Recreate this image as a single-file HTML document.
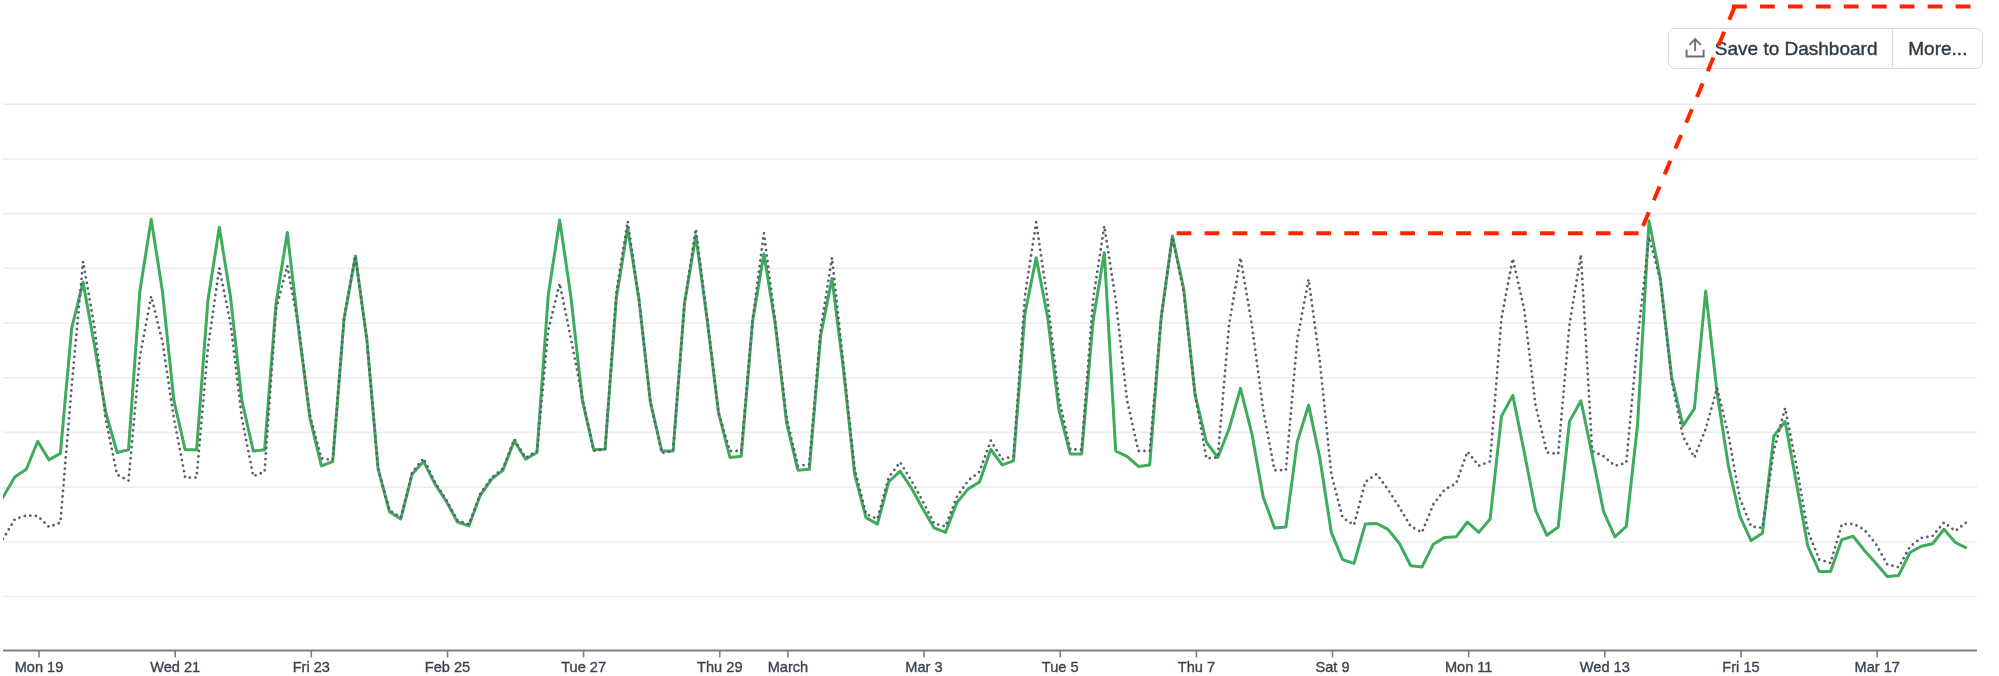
<!DOCTYPE html>
<html><head><meta charset="utf-8"><title>Chart</title>
<style>
html,body{margin:0;padding:0;background:#fff;}
body{width:1999px;height:676px;overflow:hidden;position:relative;font-family:"Liberation Sans",Arial,sans-serif;}
svg{position:absolute;left:0;top:0;}
.btn{position:absolute;left:1668px;top:27.6px;width:315px;height:40.5px;border:1px solid #d6dbe6;border-radius:7px;box-sizing:border-box;background:#fff;display:flex;align-items:center;color:#2d3b46;font-size:19px;will-change:transform;-webkit-text-stroke:0.4px #2d3b46;}
.btn .b1{width:224px;height:100%;display:flex;align-items:center;border-right:1px solid #d6dbe6;box-sizing:border-box;position:relative;}
.btn .b1 span{position:absolute;left:45.8px;top:8.6px;white-space:nowrap;}
.btn .b2{flex:1;height:100%;position:relative;}
.btn .b2 span{position:absolute;left:15.3px;top:8.6px;white-space:nowrap;}
.btn svg{position:absolute;left:15px;top:8.4px;}
</style></head>
<body>
<svg width="1999" height="676" viewBox="0 0 1999 676" style="will-change:transform">
<defs><clipPath id="pc"><rect x="3" y="0" width="1974" height="676"/></clipPath></defs>
<g stroke="#ededed" stroke-width="1.6"><line x1="3" x2="1977" y1="104.2" y2="104.2"/><line x1="3" x2="1977" y1="158.9" y2="158.9"/><line x1="3" x2="1977" y1="213.6" y2="213.6"/><line x1="3" x2="1977" y1="268.3" y2="268.3"/><line x1="3" x2="1977" y1="323" y2="323"/><line x1="3" x2="1977" y1="377.7" y2="377.7"/><line x1="3" x2="1977" y1="432.4" y2="432.4"/><line x1="3" x2="1977" y1="487.1" y2="487.1"/><line x1="3" x2="1977" y1="541.8" y2="541.8"/><line x1="3" x2="1977" y1="596.5" y2="596.5"/></g>
<line x1="3" x2="1977" y1="650.5" y2="650.5" stroke="#77818c" stroke-width="1.8"/>
<g stroke="#77818c" stroke-width="1.6"><line x1="39" x2="39" y1="650.5" y2="657.5"/><line x1="175.2" x2="175.2" y1="650.5" y2="657.5"/><line x1="311.3" x2="311.3" y1="650.5" y2="657.5"/><line x1="447.5" x2="447.5" y1="650.5" y2="657.5"/><line x1="583.6" x2="583.6" y1="650.5" y2="657.5"/><line x1="719.8" x2="719.8" y1="650.5" y2="657.5"/><line x1="787.9" x2="787.9" y1="650.5" y2="657.5"/><line x1="924" x2="924" y1="650.5" y2="657.5"/><line x1="1060.2" x2="1060.2" y1="650.5" y2="657.5"/><line x1="1196.4" x2="1196.4" y1="650.5" y2="657.5"/><line x1="1332.5" x2="1332.5" y1="650.5" y2="657.5"/><line x1="1468.7" x2="1468.7" y1="650.5" y2="657.5"/><line x1="1604.8" x2="1604.8" y1="650.5" y2="657.5"/><line x1="1741" x2="1741" y1="650.5" y2="657.5"/><line x1="1877.2" x2="1877.2" y1="650.5" y2="657.5"/></g>
<g fill="#3a4550" stroke="#3a4550" stroke-width="0.35" font-family="Liberation Sans, Arial, sans-serif" font-size="14.6" text-anchor="middle"><text x="39" y="672">Mon 19</text><text x="175.2" y="672">Wed 21</text><text x="311.3" y="672">Fri 23</text><text x="447.5" y="672">Feb 25</text><text x="583.6" y="672">Tue 27</text><text x="719.8" y="672">Thu 29</text><text x="787.9" y="672">March</text><text x="924" y="672">Mar 3</text><text x="1060.2" y="672">Tue 5</text><text x="1196.4" y="672">Thu 7</text><text x="1332.5" y="672">Sat 9</text><text x="1468.7" y="672">Mon 11</text><text x="1604.8" y="672">Wed 13</text><text x="1741" y="672">Fri 15</text><text x="1877.2" y="672">Mar 17</text></g>
<g clip-path="url(#pc)"><path d="M-7.7,512 L3.7,496 L15,476.7 L26.4,469.3 L37.7,441.2 L49,459.9 L60.4,453.4 L71.7,327.8 L83.1,282.2 L94.4,345 L105.8,412.5 L117.1,452.5 L128.5,449.8 L139.8,291.7 L151.2,219.2 L162.5,291.7 L173.9,400.7 L185.2,449.8 L196.6,449.8 L207.9,300.6 L219.3,227.2 L230.6,297.6 L241.9,400.7 L253.3,451 L264.6,449.8 L276,303.5 L287.3,232.5 L298.7,330 L310,418.5 L321.4,465.8 L332.7,461.7 L344.1,318.4 L355.4,256 L366.8,339 L378.1,468.8 L389.5,511.7 L400.8,519 L412.2,474 L423.5,461.4 L434.8,483.6 L446.2,501.3 L457.5,522 L468.9,525.9 L480.2,495.4 L491.6,479.1 L502.9,470.2 L514.3,440.7 L525.6,459.3 L537,452.5 L548.3,294.7 L559.7,220.1 L571,297.6 L582.4,400.7 L593.7,449.8 L605.1,449.2 L616.4,297.6 L627.7,228 L639.1,300.6 L650.4,402.2 L661.8,451 L673.1,451 L684.5,303.5 L695.8,235.5 L707.2,320 L718.5,412.5 L729.9,457.5 L741.2,456.3 L752.6,321.3 L763.9,253.8 L775.3,324.3 L786.6,422.9 L797.9,470.2 L809.3,469.3 L820.6,336 L832,278.4 L843.3,368 L854.7,474.7 L866,517.6 L877.4,524.1 L888.7,482 L900.1,471.1 L911.4,488 L922.8,508.7 L934.1,527.9 L945.5,532.4 L956.8,502.8 L968.2,488.9 L979.5,482 L990.8,449.5 L1002.2,464.9 L1013.5,460.8 L1024.9,313.9 L1036.2,257.7 L1047.6,316.9 L1058.9,409.6 L1070.3,454 L1081.6,454 L1093,321.3 L1104.3,252.7 L1115.7,451 L1127,456.3 L1138.4,466.4 L1149.7,464.9 L1161.1,318.3 L1172.4,236.1 L1183.7,288.8 L1195.1,394.8 L1206.4,442.1 L1217.8,457.5 L1229.1,428.8 L1240.5,388.3 L1251.8,433.3 L1263.2,496.9 L1274.5,527.9 L1285.9,527 L1297.2,442.1 L1308.6,405.1 L1319.9,458.4 L1331.3,532.4 L1342.6,559.6 L1354,563.4 L1365.3,524.1 L1376.6,523.5 L1388,529.4 L1399.3,543.3 L1410.7,565.8 L1422,567 L1433.4,544.2 L1444.7,537.4 L1456.1,536.8 L1467.4,522 L1478.8,532.4 L1490.1,519 L1501.5,416.1 L1512.8,395.4 L1524.2,452 L1535.5,510.2 L1546.9,535.3 L1558.2,527 L1569.5,421.4 L1580.9,400.7 L1592.2,454.9 L1603.6,511.7 L1614.9,536.8 L1626.3,526.4 L1637.6,424.4 L1649,220.7 L1660.3,278.4 L1671.7,377.5 L1683,425.9 L1694.4,408.7 L1705.7,291.1 L1717.1,393 L1728.4,465.8 L1739.8,516.1 L1751.1,540.6 L1762.4,533.3 L1773.8,436.2 L1785.1,421.4 L1796.5,483.6 L1807.8,546.2 L1819.2,571.4 L1830.5,571.4 L1841.9,539.6 L1853.2,536.2 L1864.6,550.7 L1875.9,563.2 L1887.3,576.5 L1898.6,575.5 L1910,552.5 L1921.3,546.2 L1932.6,543.8 L1944,529.3 L1955.3,542.5 L1966.7,548.1" fill="none" stroke="#3fab5c" stroke-width="3" stroke-linejoin="round"/>
<path d="M-7.7,552 L3.7,538 L15,519 L26.4,515.5 L37.7,516 L49,527 L60.4,522.6 L71.7,386 L83.1,261.5 L94.4,327 L105.8,420 L117.1,474.7 L128.5,480.6 L139.8,357 L151.2,296.2 L162.5,342 L173.9,418.5 L185.2,477.6 L196.6,477.6 L207.9,348 L219.3,268 L230.6,324 L241.9,418.5 L253.3,476.2 L264.6,471.7 L276,309.5 L287.3,265.7 L298.7,327 L310,415.5 L321.4,458.4 L332.7,460 L344.1,318.4 L355.4,256 L366.8,339 L378.1,468.8 L389.5,510.2 L400.8,517.5 L412.2,472.5 L423.5,458.4 L434.8,482.1 L446.2,499.8 L457.5,520.5 L468.9,524.4 L480.2,493.9 L491.6,477.6 L502.9,468.7 L514.3,439.2 L525.6,457.8 L537,451 L548.3,330 L559.7,283.4 L571,339 L582.4,398 L593.7,451 L605.1,449.2 L616.4,291.7 L627.7,221.3 L639.1,300 L650.4,402 L661.8,453 L673.1,451 L684.5,303.5 L695.8,229 L707.2,318 L718.5,412.5 L729.9,451 L741.2,451 L752.6,320 L763.9,233.1 L775.3,322 L786.6,418 L797.9,465.8 L809.3,464.3 L820.6,330 L832,257.7 L843.3,363 L854.7,468.8 L866,514 L877.4,519 L888.7,477.6 L900.1,462.2 L911.4,480.6 L922.8,501.3 L934.1,523.5 L945.5,526.4 L956.8,496.9 L968.2,480.6 L979.5,471.7 L990.8,440.7 L1002.2,459.3 L1013.5,456.3 L1024.9,296 L1036.2,222.2 L1047.6,300 L1058.9,398 L1070.3,449.5 L1081.6,449.5 L1093,300 L1104.3,226 L1115.7,300 L1127,400 L1138.4,451 L1149.7,451 L1161.1,318 L1172.4,237 L1183.7,292 L1195.1,395 L1206.4,458.4 L1217.8,457.5 L1229.1,324.3 L1240.5,257.7 L1251.8,324.3 L1263.2,410 L1274.5,470.2 L1285.9,470.2 L1297.2,340 L1308.6,279.3 L1319.9,362 L1331.3,474 L1342.6,517.6 L1354,525 L1365.3,482 L1376.6,474 L1388,489.5 L1399.3,507.2 L1410.7,526.4 L1422,532.4 L1433.4,504.3 L1444.7,489.5 L1456.1,483.6 L1467.4,451.6 L1478.8,465.8 L1490.1,461.4 L1501.5,318 L1512.8,258.6 L1524.2,309.5 L1535.5,405 L1546.9,452.5 L1558.2,454 L1569.5,324.3 L1580.9,254.7 L1592.2,451 L1603.6,456.3 L1614.9,465.8 L1626.3,462.8 L1637.6,340 L1649,237 L1660.3,280 L1671.7,380.5 L1683,436.5 L1694.4,457.5 L1705.7,429 L1717.1,388 L1728.4,435 L1739.8,498.3 L1751.1,526.4 L1762.4,527.9 L1773.8,451 L1785.1,408.1 L1796.5,465.8 L1807.8,531 L1819.2,559.5 L1830.5,563 L1841.9,524.3 L1853.2,523.7 L1864.6,530 L1875.9,544 L1887.3,564.5 L1898.6,567.3 L1910,546.6 L1921.3,537.9 L1932.6,536 L1944,522.5 L1955.3,531 L1966.7,522" fill="none" stroke="#5b5e6e" stroke-width="2.8" stroke-dasharray="0 5.6" stroke-linecap="round" stroke-linejoin="round"/></g>
</svg>
<div class="btn"><div class="b1"><svg width="22" height="22" viewBox="0 0 22 22"><path d="M2.6 12.7V19.4H19.6V12.7" fill="none" stroke="#67737c" stroke-width="2"/><path d="M11.1 13.9V2.6M5.4 7.9L11.1 2.2L16.8 7.9" fill="none" stroke="#67737c" stroke-width="1.9"/></svg><span>Save to Dashboard</span></div><div class="b2"><span>More...</span></div></div>
<svg width="1999" height="676" viewBox="0 0 1999 676" style="pointer-events:none">
<g fill="none" stroke="#ff2300" stroke-width="4" stroke-dasharray="14.8 13.15">
<path d="M1176.6,233.3 H1639"/>
<path d="M1735,6 L1640,233.3"/>
<path d="M1732,6.4 H1971"/>
</g>
</svg>
</body></html>
